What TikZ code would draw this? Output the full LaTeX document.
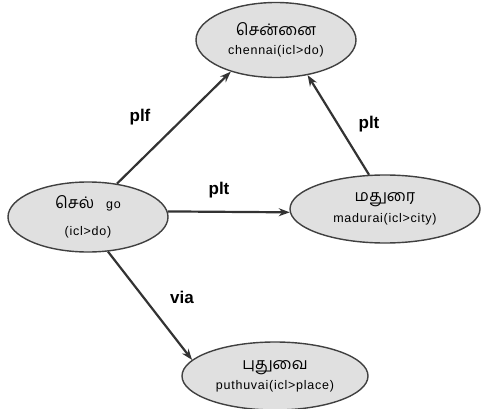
\documentclass[tikz,border=0pt]{standalone}
\usepackage{fontspec}
\setmainfont{Liberation Sans}
\newfontfamily\tamil[Script=Tamil]{Hind Madurai}
\newfontfamily\unl[LetterSpace=6]{Liberation Sans}
\usetikzlibrary{arrows.meta,shapes.geometric}

\begin{document}
\begin{tikzpicture}[
  x=1pt, y=-1pt, >={Stealth[length=11pt,width=8pt]},
  concept/.style={ellipse,draw=black!75,line width=1.4pt,fill=black!12,
    inner sep=0pt,align=center,font=\fontsize{12.5}{14}\unl},
  rel/.style={->,draw=black!80,line width=2.2pt},
  lbl/.style={font=\fontsize{17}{19}\bfseries}
]
\useasboundingbox (0,0) rectangle (482,409);

\node[concept,minimum width=160pt,minimum height=75pt] (chennai) at (276,40)
  {{\tamil\fontsize{16}{18}\selectfont சென்னை}\\[5pt] chennai(icl>do)};
\node[concept,minimum width=160pt,minimum height=70pt] (go) at (88,217)
  {{\tamil\fontsize{16}{18}\selectfont செல்}\hspace{12pt}go\\[13pt] (icl>do)};
\node[concept,minimum width=190pt,minimum height=68pt] (madurai) at (385,209)
  {{\tamil\fontsize{16}{18}\selectfont மதுரை}\\[5pt] madurai(icl>city)};
\node[concept,minimum width=186pt,minimum height=68pt] (puduvai) at (275,376)
  {{\tamil\fontsize{16}{18}\selectfont புதுவை}\\[5pt] puthuvai(icl>place)};

% relations
\draw[rel] (go.49) -- (chennai.215);
\draw[rel] (go.4) -- (madurai.182);
\draw[rel] (madurai.115) -- (chennai.312);
\draw[rel] (go.300) -- (puduvai.169);

\node[lbl] (plf) at (140,117) {plf};
\node[lbl] (pltmid) at (219,190) {plt};
\node[lbl] (plttop) at (369,124) {plt};
\node[lbl] (via) at (182,297) {via};
\end{tikzpicture}
\end{document}
